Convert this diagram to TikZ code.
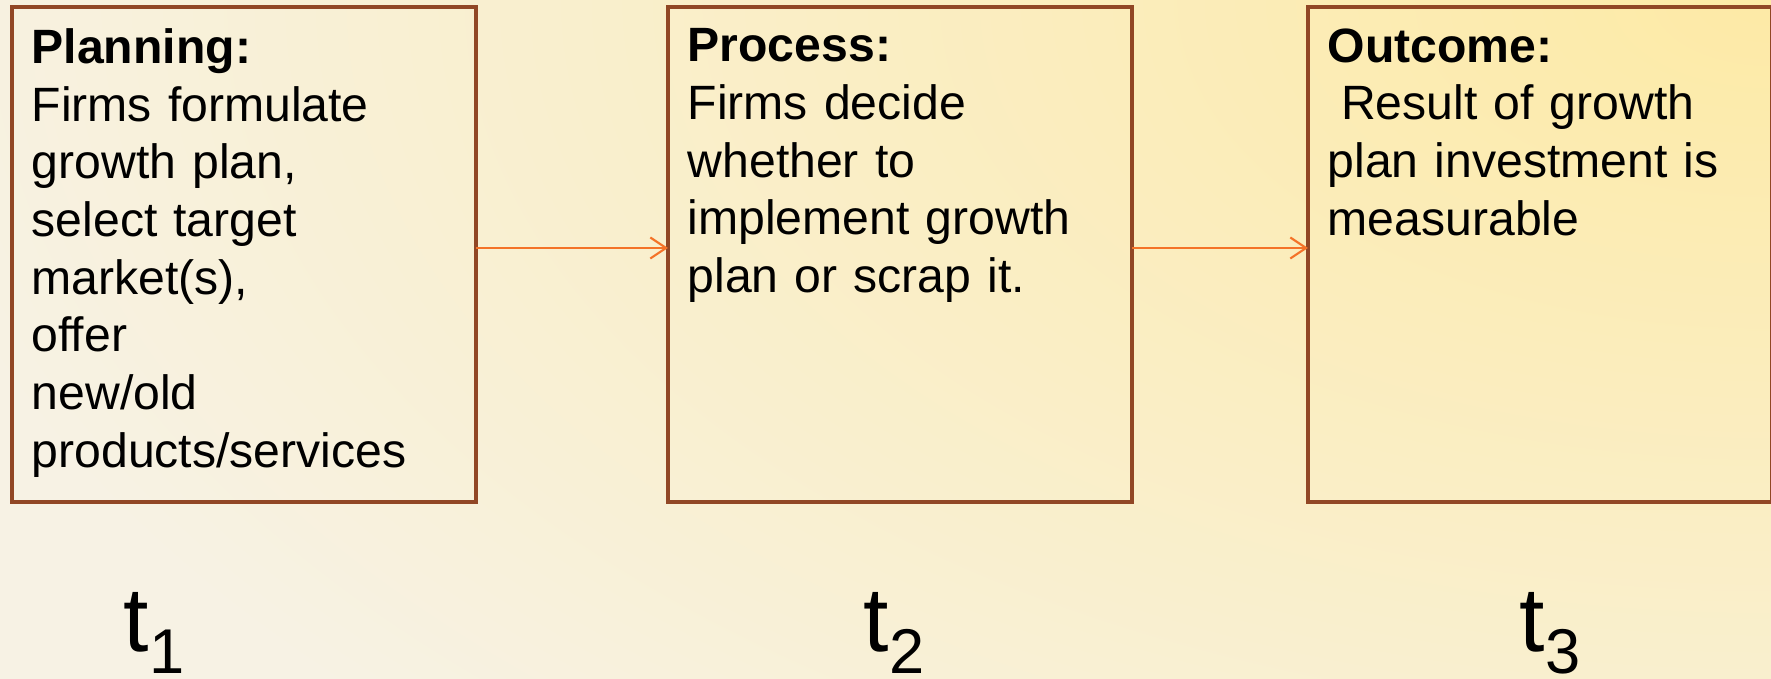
\documentclass[tikz,border=0pt]{standalone}
\usepackage{fontspec}
\setmainfont{Liberation Sans}
\usetikzlibrary{positioning, arrows.meta}

\definecolor{bgcream}{HTML}{F7F2E4}
\definecolor{bgyellow}{HTML}{FDEAA6}
\definecolor{boxbrown}{HTML}{914725}
\definecolor{arrorange}{HTML}{F47328}

\newcommand{\tstep}[1]{t\raisebox{-6pt}{\fontsize{18}{20}\selectfont #1}}

\begin{document}
\begin{tikzpicture}[
	panel/.style={draw=boxbrown, line width=1.4pt, minimum width=4.64cm, minimum height=4.95cm, inner sep=0pt, outer sep=0pt},
	paneltext/.style={align=left, text width=4.3cm, inner sep=0pt, font=\fontsize{13.7}{16.4}\selectfont},
	flow/.style={draw=arrorange, line width=0.6pt, -{Straight Barb[length=4.5pt, width=6pt]}},
	stage/.style={inner sep=0pt, font=\fontsize{26}{30}\selectfont}
]

	% background
	\useasboundingbox (0,0) rectangle (17.71,-6.79);
	\fill[bgcream] (0,0) rectangle (17.71,-6.79);
	\begin{scope}
		\clip (0,0) rectangle (17.71,-6.79);
		\shade[inner color=bgyellow, outer color=bgcream] (17.71,0) ellipse (19 and 10.5);
	\end{scope}

	% the three boxes
	\node[panel, anchor=north west] (plan) at (0.12,-0.07) {};
	\node[panel, right=1.92cm of plan] (proc) {};
	\node[panel, right=1.76cm of proc] (outc) {};

	\node[paneltext, below right=0.21cm and 0.19cm of plan.north west] (plantext)
		{\textbf{Planning:}\\ Firms formulate\\ growth plan,\\ select target\\ market(s),\\ offer\\ new/old\\ products/services};
	\node[paneltext, below right=0.21cm and 0.19cm of proc.north west] (proctext)
		{\textbf{Process:}\\ Firms decide\\ whether to\\ implement growth\\ plan or scrap it.};
	\node[paneltext, below right=0.21cm and 0.19cm of outc.north west] (outctext)
		{\textbf{Outcome:}\\ \hspace*{.28em}Result of growth\\ plan investment is\\ measurable};

	\draw[flow] ([yshift=0.065cm]plan.east) -- ([yshift=0.065cm]proc.west);
	\draw[flow] ([yshift=0.065cm]proc.east) -- ([yshift=0.065cm]outc.west);

	% time points
	\node[stage, anchor=base] (t1) at (1.54,-6.52) {\tstep{1}};
	\node[stage, anchor=base] (t2) at (8.94,-6.52) {\tstep{2}};
	\node[stage, anchor=base] (t3) at (15.50,-6.52) {\tstep{3}};

\end{tikzpicture}
\end{document}
